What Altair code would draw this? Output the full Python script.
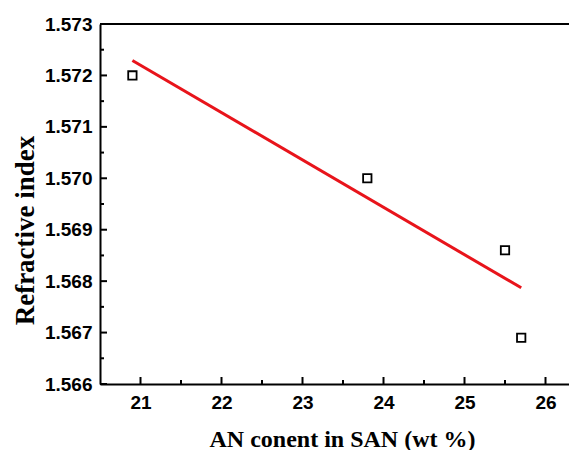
import altair as alt
import pandas as pd

# Data
an_content = [20.9, 23.8, 25.5, 25.7]
refractive_index = [1.5720, 1.5700, 1.5686, 1.5669]
fit_x = [20.9, 25.7]
fit_y = [1.57229, 1.56787]

x_major = [21, 22, 23, 24, 25, 26]
x_minor = [21.5, 22.5, 23.5, 24.5, 25.5]
y_major = [1.566, 1.567, 1.568, 1.569, 1.570, 1.571, 1.572, 1.573]
y_minor = [1.5665, 1.5675, 1.5685, 1.5695, 1.5705, 1.5715, 1.5725]

W, H = 469, 360
x_dom = [20.5, 26.29]
y_dom = [1.566, 1.573]

label_font = "Liberation Sans"
title_font = "Liberation Serif"

xs = alt.Scale(domain=x_dom, nice=False, zero=False)
ys = alt.Scale(domain=y_dom, nice=False, zero=False)

pts = pd.DataFrame({"x": an_content, "y": refractive_index})
fit = pd.DataFrame({"x": fit_x, "y": fit_y})

x_axis = alt.Axis(
    title="AN conent in SAN (wt %)", values=x_major, format="d",
    ticks=False, tickSize=0, grid=False,
    domain=True, domainColor="black", domainWidth=2,
    labelFont=label_font, labelFontWeight="bold", labelFontSize=19, labelColor="black",
    labelPadding=9,
    titleFont=title_font, titleFontWeight="bold", titleFontSize=24, titleColor="black",
    titleX=242, titleY=62, titleBaseline="alphabetic",
)
y_axis = alt.Axis(
    title="Refractive index", values=y_major, format=".3f",
    ticks=False, tickSize=0, grid=False,
    domain=True, domainColor="black", domainWidth=2,
    labelFont=label_font, labelFontWeight="bold", labelFontSize=19, labelColor="black",
    labelPadding=8,
    titleFont=title_font, titleFontWeight="bold", titleFontSize=27, titleColor="black",
    titleX=-67, titleY=206, titleBaseline="alphabetic",
)

points = alt.Chart(pts).mark_point(
    shape="square", filled=False, color="black", size=70, strokeWidth=1.8, opacity=1
).encode(
    x=alt.X("x:Q", scale=xs, axis=x_axis),
    y=alt.Y("y:Q", scale=ys, axis=y_axis),
)

line = alt.Chart(fit).mark_line(color="#e8141b", strokeWidth=3).encode(
    x=alt.X("x:Q", scale=xs),
    y=alt.Y("y:Q", scale=ys),
)

xt_major = alt.Chart(pd.DataFrame({"x": x_major})).mark_rule(color="black", strokeWidth=2).encode(
    x=alt.X("x:Q", scale=xs), y=alt.value(H), y2=alt.value(H - 7)
)
xt_minor = alt.Chart(pd.DataFrame({"x": x_minor})).mark_rule(color="black", strokeWidth=2).encode(
    x=alt.X("x:Q", scale=xs), y=alt.value(H), y2=alt.value(H - 4)
)
yt_major = alt.Chart(pd.DataFrame({"y": y_major})).mark_rule(color="black", strokeWidth=2).encode(
    y=alt.Y("y:Q", scale=ys), x=alt.value(0), x2=alt.value(7)
)
yt_minor = alt.Chart(pd.DataFrame({"y": y_minor})).mark_rule(color="black", strokeWidth=2).encode(
    y=alt.Y("y:Q", scale=ys), x=alt.value(0), x2=alt.value(4)
)
top_line = alt.Chart(pd.DataFrame({"x": [0]})).mark_rule(color="black", strokeWidth=2).encode(
    y=alt.value(0), x=alt.value(0), x2=alt.value(W)
)

chart = alt.layer(
    line, points, xt_major, xt_minor, yt_major, yt_minor, top_line
).properties(
    width=W, height=H,
    autosize=alt.AutoSizeParams(type="none"),
    padding={"left": 92, "top": 16, "right": 0, "bottom": 66},
).configure_view(stroke=None).configure(background="white")

chart.save("out.html", embed_options={"renderer": "svg", "actions": False})
